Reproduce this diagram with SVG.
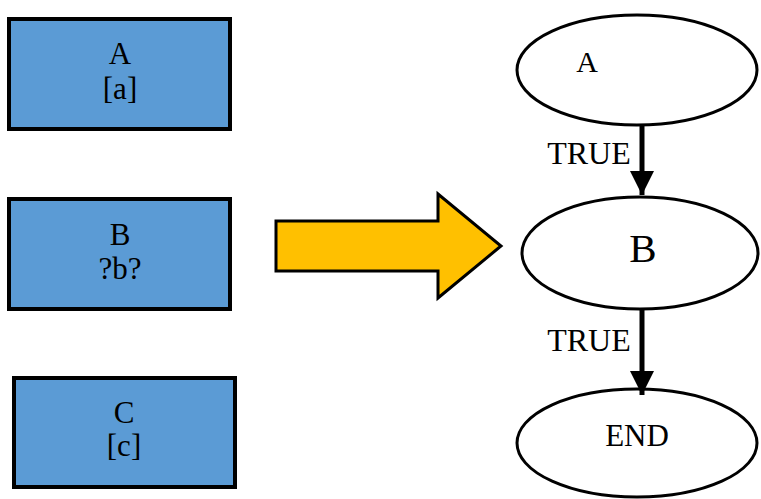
<svg xmlns="http://www.w3.org/2000/svg" width="761" height="499" viewBox="0 0 761 499">
<style>
.box{fill:#5b9bd5;stroke:#000;stroke-width:4}
.ell{fill:#fff;stroke:#000;stroke-width:3}
.t{font-family:"Liberation Serif","Times New Roman",serif;fill:#000;text-anchor:middle}
.edge{stroke:#000;stroke-width:5;fill:none}
</style>
<defs>
<marker id="ah" markerUnits="userSpaceOnUse" markerWidth="24" markerHeight="24" viewBox="0 0 24 24" refX="24" refY="12" orient="auto">
<path d="M0,0 L24,12 L0,24 Z" fill="#000"/>
</marker>
</defs>
<rect width="761" height="499" fill="#fff"/>
<g id="boxA">
<rect class="box" x="9" y="19" width="221" height="110"/>
<text class="t" x="120" y="64" font-size="31">A</text>
<text class="t" x="120" y="99" font-size="31">[a]</text>
</g>
<g id="boxB">
<rect class="box" x="9" y="199" width="221" height="110"/>
<text class="t" x="120" y="245" font-size="31">B</text>
<text class="t" x="120" y="279" font-size="31">?b?</text>
</g>
<g id="boxC">
<rect class="box" x="14" y="378" width="221" height="109"/>
<text class="t" x="124" y="423" font-size="31">C</text>
<text class="t" x="124" y="456" font-size="31">[c]</text>
</g>
<g id="bigArrow">
<path d="M276,221 L438,221 L438,194 L501,246 L438,298 L438,271 L276,271 Z" fill="#ffc000" stroke="#000" stroke-width="3"/>
</g>
<g id="ellA">
<ellipse class="ell" cx="637" cy="70" rx="120" ry="55"/>
<text class="t" x="587" y="72" font-size="30">A</text>
</g>
<g id="ellB">
<ellipse class="ell" cx="640" cy="253" rx="118" ry="56"/>
<text class="t" x="643" y="262" font-size="41">B</text>
</g>
<g id="ellEND">
<ellipse class="ell" cx="637" cy="443" rx="120" ry="54"/>
<text class="t" x="637" y="446" font-size="31">END</text>
</g>
<g id="connectors">
<line class="edge" x1="642" y1="126" x2="642" y2="195" marker-end="url(#ah)"/>
<text class="t" x="589" y="164" font-size="32">TRUE</text>
<line class="edge" x1="642" y1="310" x2="642" y2="395" marker-end="url(#ah)"/>
<text class="t" x="589" y="351" font-size="32">TRUE</text>
</g>
</svg>
